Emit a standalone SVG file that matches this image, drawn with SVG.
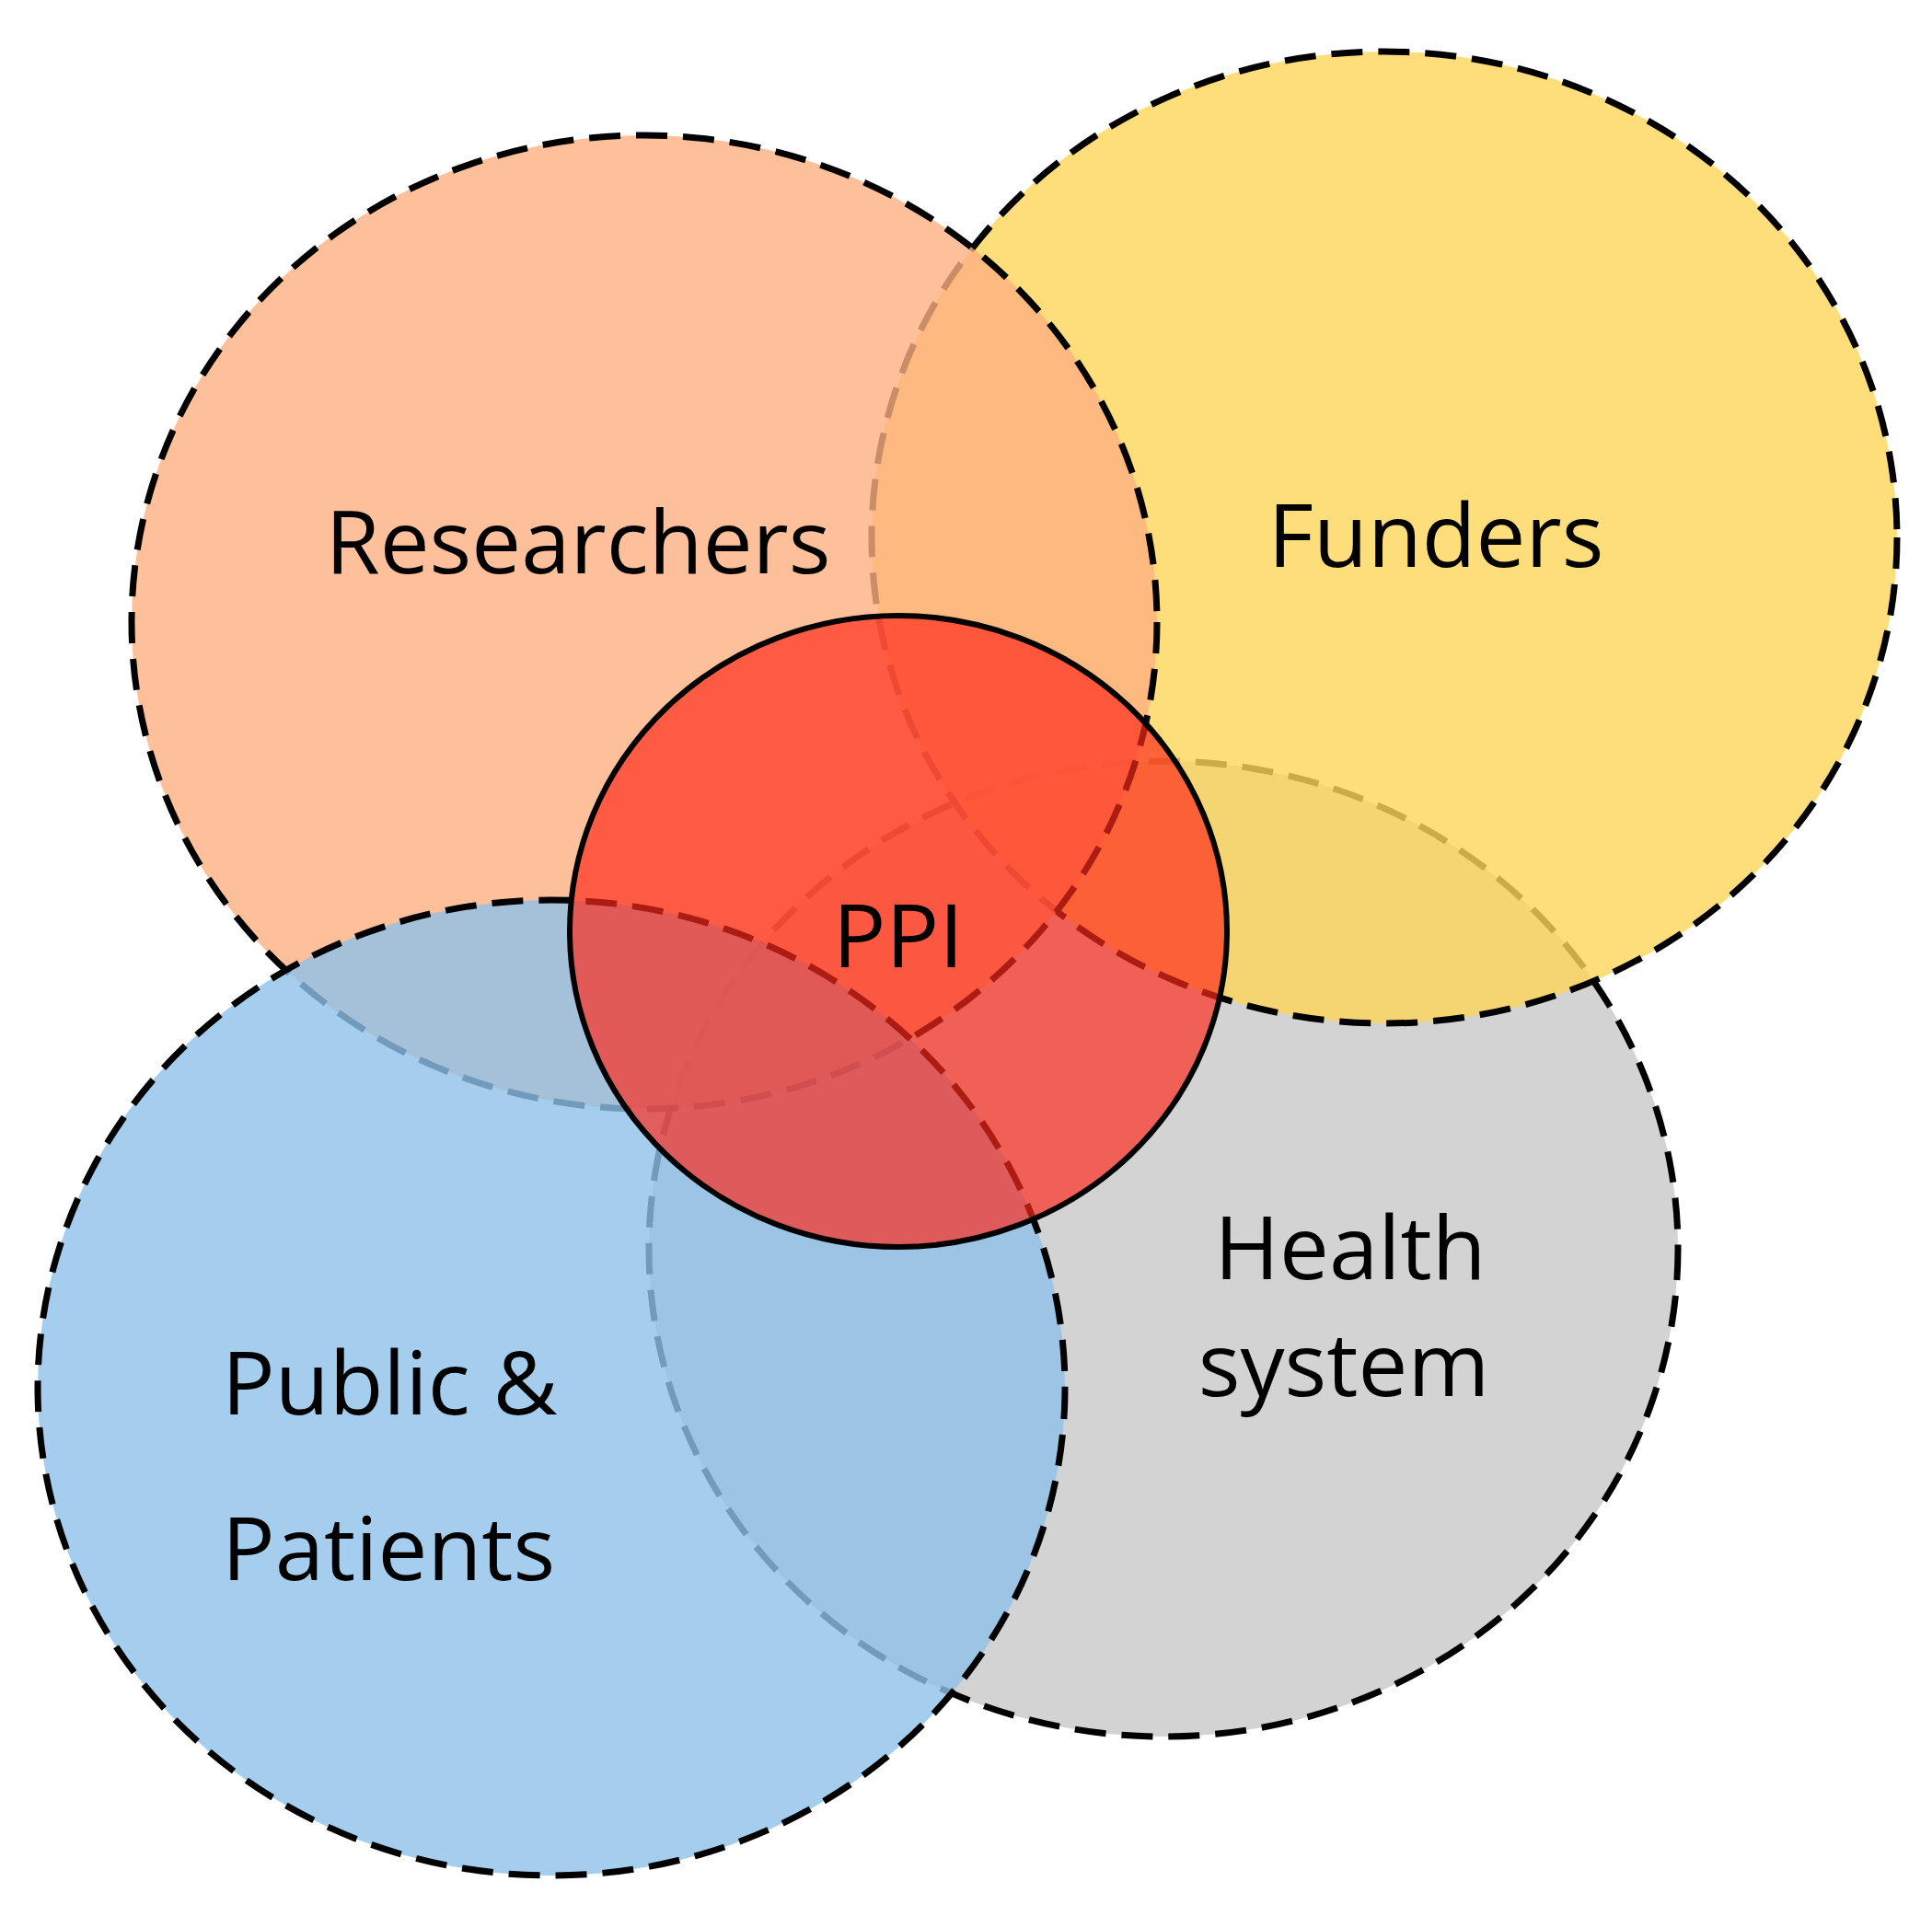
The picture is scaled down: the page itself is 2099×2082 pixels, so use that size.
<svg xmlns="http://www.w3.org/2000/svg" width="2099" height="2082" viewBox="0 0 2099 2082">
<style>
.set{stroke:#000;stroke-width:7;stroke-dasharray:34 17}
.t{font-family:"Open Sans","Liberation Sans",sans-serif;font-size:96px;fill:#000}
</style>
<rect width="2099" height="2082" fill="#fff"/>
<g id="health"><ellipse class="set" cx="1264" cy="1357" rx="559" ry="530" fill="#c8c8c8" fill-opacity="0.8"/></g>
<g id="funders"><ellipse class="set" cx="1504" cy="584" rx="557" ry="528" fill="#fed55a" fill-opacity="0.8"/></g>
<g id="researchers"><ellipse class="set" cx="700" cy="676" rx="557" ry="529" fill="#fcb081" fill-opacity="0.8"/></g>
<g id="public"><ellipse class="set" cx="599" cy="1508" rx="558" ry="530" fill="#8ec1e8" fill-opacity="0.8"/></g>
<g id="ppi"><ellipse cx="976" cy="1012" rx="357" ry="343" fill="#ff2a1a" fill-opacity="0.68" stroke="#000" stroke-width="6"/></g>
<g id="labels">
<text class="t" x="628" y="623" text-anchor="middle">Researchers</text>
<text class="t" x="1560" y="616" text-anchor="middle">Funders</text>
<text class="t" x="1467" y="1390" text-anchor="middle">Health</text>
<text class="t" x="1460" y="1517" text-anchor="middle">system</text>
<text class="t" x="241" y="1537">Public &amp;</text>
<text class="t" x="241" y="1717">Patients</text>
<text class="t" x="976" y="1051" text-anchor="middle" font-size="106">PPI</text>
</g>
<g id="connectors"/>
</svg>
